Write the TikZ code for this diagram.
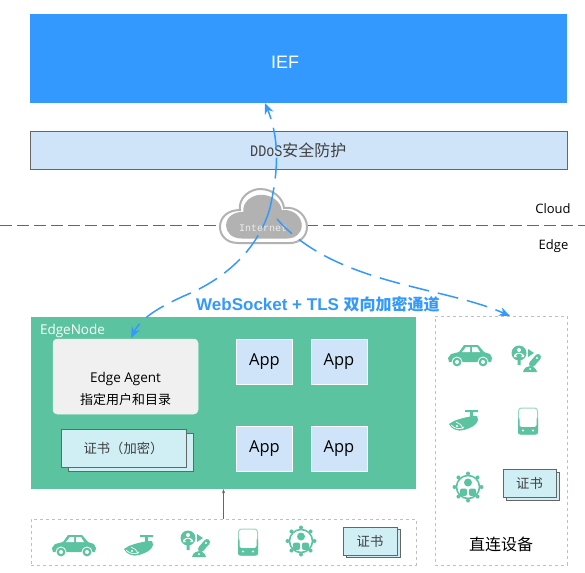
\documentclass[tikz,border=0pt]{standalone}
\usepackage{fontspec}
\usetikzlibrary{arrows.meta}
\setmainfont{Open Sans}
\newfontfamily\cjk{Noto Sans CJK SC}
\newfontfamily\arialfont{Liberation Sans}
\newfontfamily\typefont{Liberation Mono}
\newcommand{\setfs}[1]{\fontsize{#1}{#1}\selectfont}
\definecolor{iefblue}{HTML}{3399FF}
\definecolor{paleblue}{HTML}{CFE4F9}
\definecolor{edgegreen}{HTML}{5CC3A0}
\definecolor{certcyan}{HTML}{D0EFF5}
\definecolor{linegray}{HTML}{666666}
\tikzset{
  box/.style={rectangle, inner sep=0pt, draw=linegray, line width=0.7pt},
  appbox/.style={rectangle, inner sep=0pt, fill=paleblue, draw=white, line width=0.4pt, minimum width=56pt, minimum height=45pt, font=\setfs{16.5}},
  certbox/.style={box, fill=certcyan, text=black!75, font=\cjk\setfs{13.3}},
  dashbox/.style={rectangle, inner sep=0pt, draw=black!25, dashed, line width=0.7pt},
  tunnel/.style={draw=iefblue, line width=1.5pt, dash pattern=on 21pt off 9pt, -{Stealth[length=11pt,width=9pt]}},
  carpic/.pic={
    \fill[edgegreen] (-22,3) -- (-19,-1) -- (-11,-3) -- (-6,-10) -- (8,-10) -- (14,-3) -- (20,-1) -- (22,3) -- (21,7) -- (-21,7) -- cycle;
    \fill[white] (-8,-3) -- (-4,-8) -- (0,-8) -- (0,-3) -- cycle (2,-3) -- (2,-8) -- (7,-8) -- (10,-3) -- cycle;
    \foreach \wx in {-13,13} {
      \fill[white] (\wx,7) circle[radius=5.5pt];
      \fill[edgegreen] (\wx,7) circle[radius=4.4pt];
      \fill[white] (\wx,7) circle[radius=2pt];
    }
  },
  campic/.pic={
    \fill[edgegreen] (-19,3) .. controls (-14,-1) and (-6,-3) .. (5,-5) -- (9,-5) -- (10,-1) .. controls (9,4) and (3,7) .. (-4,9) .. controls (-10,11) and (-17,8) .. (-19,3) -- cycle;
    \fill[edgegreen] (2,-9) rectangle (5,-4) (-3,-11) rectangle (10,-9) (3,-5) rectangle (9,-2);
    \draw[white, line width=0.7pt] (-17,4) .. controls (-13,8) and (-8,9) .. (-4,6) (-12,1) .. controls (-9,2) and (-6,4) .. (-5,8);
    \fill[white] (-11,5) circle[radius=1.1pt];
  },
  bulbpic/.pic={
    \fill[edgegreen] (-9,-5) circle[radius=7.5pt];
    \fill[white] (-9,-8) circle[radius=2pt];
    \fill[white] (-14,-3) .. controls (-11,-6) and (-7,-6) .. (-4,-3) -- (-4,-1) -- (-14,-1) -- cycle;
    \fill[edgegreen] (-12,-3) .. controls (-10,-5) and (-8,-5) .. (-6,-3) -- (-7.5,0) -- (-7.5,7) -- (-10.5,7) -- (-10.5,0) -- cycle;
    \fill[edgegreen] (0,-9) -- (6,-5) -- (0,-1) -- cycle;
    \draw[edgegreen, line width=6pt, line cap=round] (4,6) -- (10,-1);
    \fill[white] (9,0) circle[radius=1.2pt];
    \fill[edgegreen] (-5,14) .. controls (-3,6) and (7,6) .. (9,14) -- cycle;
    \fill[white] (2,11) circle[radius=1pt];
  },
  phonepic/.pic={
    \draw[edgegreen!65, line width=1pt, rounded corners=3pt] (-9.5,-13) rectangle (9.5,13);
    \fill[edgegreen, rounded corners=2pt] (-10,-3) -- (-10,13.5) -- (10,13.5) -- (10,-3) -- (8.5,-3) -- (8.5,6) -- (-8.5,6) -- (-8.5,-3) -- cycle;
    \fill[white] (-5,9.5) circle[radius=1.1pt] (5,9.5) circle[radius=1.1pt];
  },
  grouppic/.pic={
    \draw[edgegreen, line width=1.6pt] (0,0) circle[radius=11.5pt];
    \foreach \ang in {0,45,...,315}
      \fill[edgegreen] (\ang:13.5) circle[radius=2pt];
    \fill[edgegreen] (0,-4.5) circle[radius=4pt];
    \fill[edgegreen, rounded corners=2pt] (-8,9) -- (-8,1.5) -- (-1,1.5) -- (-1,9) -- cycle;
    \fill[edgegreen, rounded corners=2pt] (8,9) -- (8,1.5) -- (1,1.5) -- (1,9) -- cycle;
  },
  cloudshape/.pic={
    \path[pic actions] (-25,21) .. controls (-37,21) and (-43,13) .. (-43,5) .. controls (-43,-5) and (-35,-12) .. (-23,-12) .. controls (-25,-24) and (-13,-33) .. (-3,-33) .. controls (10,-33) and (20,-24) .. (21,-14) .. controls (34,-16) and (44,-6) .. (44,5) .. controls (44,14) and (37,21) .. (27,21) -- cycle;
  },
}
\begin{document}
\begin{tikzpicture}[x=1pt, y=-1pt]
  \useasboundingbox (0,0) rectangle (585,572);
  \node[rectangle, inner sep=0pt, fill=iefblue, minimum width=537pt, minimum height=89pt] (ief) at (298.5, 58.5) [] {};
  \node[text=white, font=\arialfont\setfs{18}] (ieflabel) at (285, 62) [] {IEF};
  \node[box, fill=paleblue, minimum width=537pt, minimum height=38pt] (ddos) at (298.5, 150) [] {};

  \draw[linegray, dash pattern=on 12pt off 5pt, line width=0.7pt] (0,225) -- (585,225);
  \node[font=\setfs{13}] (cloudlabel) at (553, 209) [] {Cloud};
  \node[font=\setfs{13}] (edgelabel) at (553.5, 246) [] {Edge};

  \pic[draw=black!30, fill=white, line width=2pt] at (263,222) {cloudshape};
  \pic[fill=black!30, xscale=0.87, yscale=0.81] at (263.5,221.5) {cloudshape};
  \node[text=black!7, font=\typefont\setfs{10}, inner sep=0pt] (cloud) at (263, 228) [] {Internet};

  \node[rectangle, inner sep=0pt, fill=edgegreen, minimum width=385pt, minimum height=172pt] (edgenode) at (223.5, 403) [] {};
  \node[text=white, font=\setfs{13.5}] (edgenodelabel) at (72.5, 330.5) [] {EdgeNode};
  \node[rectangle, rounded corners=4pt, inner sep=0pt, fill=black!6, draw=white!80!edgegreen, line width=0.5pt, minimum width=145pt, minimum height=75pt] (agent) at (125.5, 376.5) [] {};
  \node[font=\setfs{13.5}] (agentname) at (125.5, 378.5) [] {Edge Agent};
  \node[font=\cjk\setfs{13}] (agentdir) at (125.5, 400) [] {指定用户和目录};

  \node[certbox, minimum width=125pt, minimum height=38pt] (agentcertb) at (130.5, 452) [] {};
  \node[certbox, minimum width=125pt, minimum height=38pt] (agentcert) at (123.5, 448) [] {证书（加密）};

  \foreach \name/\xpos/\ypos in {appa/264.5/361.5, appb/339/361.5, appc/264.5/448.5, appd/339/448.5}
    \node[appbox] (\name) at (\xpos, \ypos) [] {\raisebox{-1.5pt}{App}};

  \node[dashbox, minimum width=385pt, minimum height=46pt] (bottomgroup) at (223.5, 542) [] {};
  \node[dashbox, minimum width=132pt, minimum height=249pt] (direct) at (501, 440.5) [] {};
  \node[font=\cjk\setfs{16}] (directlabel) at (501, 544) [] {直连设备};
  \path (bottomgroup.north) edge[draw=linegray, line width=0.7pt, -{Stealth[length=4pt,width=3pt]}] (edgenode.south);

  \foreach \kind/\xpos/\ypos in {carpic/74/545, campic/143/546, bulbpic/197/543, phonepic/248/542, grouppic/301/541, carpic/470/355, bulbpic/528/358, campic/468/421, phonepic/528/421, grouppic/468/487}
    \pic at (\xpos, \ypos) {\kind};

  \node[certbox, minimum width=54pt, minimum height=28pt] (bottomcertb) at (373, 543.5) [] {};
  \node[certbox, minimum width=54pt, minimum height=28pt] (bottomcert) at (370, 541) [] {证书};
  \node[certbox, minimum width=53pt, minimum height=28pt] (directcertb) at (532.5, 486) [] {};
  \node[certbox, minimum width=53pt, minimum height=28pt] (directcert) at (529.5, 483) [] {证书};

  \node[text=black!75, font=\typefont\setfs{16}, inner sep=0pt, anchor=west] (ddoslabel) at (250, 150) [] {\scalebox{0.84}[1]{DDoS}{\cjk\setfs{16}安全防护}};
  \node[text=iefblue, font=\arialfont\bfseries\setfs{17}, inner sep=0pt, anchor=west] (tunnellabel) at (196, 304) [] {WebSocket + TLS {\cjk\bfseries\setfs{16}双向加密通道}};

  \coordinate (port) at (270, 208);
  \coordinate (portright) at (277, 219);
  \coordinate (ieftip) at (265, 103);
  \coordinate (agentbend) at (193, 292);
  \coordinate (agenttip) at (131, 338);
  \coordinate (directtip) at (510, 316);
  \draw[tunnel] (port) .. controls (276,180) and (282,145) .. (ieftip);
  \draw[tunnel] (port) .. controls (258,250) and (225,277) .. (agentbend) .. controls (165,304) and (142,316) .. (agenttip);
  \draw[tunnel] (portright) .. controls (335,285) and (443,286) .. (directtip);
\end{tikzpicture}
\end{document}
